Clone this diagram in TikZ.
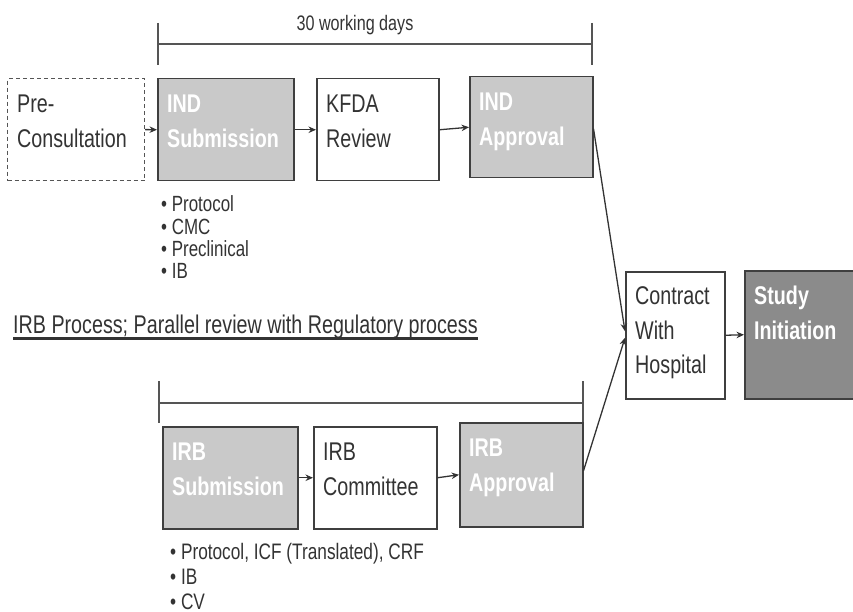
\documentclass[tikz,border=0pt]{standalone}
\usepackage{fontspec}
\setmainfont[FakeStretch=0.77]{Liberation Sans}
\usetikzlibrary{arrows.meta,calc}
\definecolor{boxgray}{HTML}{C9C9C9}
\definecolor{darkfill}{HTML}{8B8B8B}
\definecolor{edge}{HTML}{3F3F3F}
\definecolor{ink}{HTML}{333333}
\definecolor{rule}{HTML}{555555}

\begin{document}
\begin{tikzpicture}[x=1pt,y=-1pt,
  box/.style={draw=edge, line width=1.5pt, anchor=north west, inner sep=0pt, fill=white},
  shaded/.style={box, fill=boxgray},
  darkbox/.style={box, fill=darkfill},
  pending/.style={box, draw=rule, dashed, dash pattern=on 4pt off 3pt, line width=1.2pt},
  boxtext/.style={anchor=north west, inner sep=0pt, align=left, text=ink, font=\fontsize{25.6}{34.5}\selectfont},
  lighttext/.style={boxtext, text=white, font=\fontsize{25.6}{34.5}\selectfont\bfseries},
  flow/.style={draw=ink, line width=1.3pt, -{Stealth[length=7.5pt,width=6.5pt]}},
  span/.style={draw=rule, line width=1.2pt},
  notes/.style={anchor=north west, inner sep=0pt, align=left, text=ink, font=\fontsize{22}{22.3}\selectfont}
]
\useasboundingbox (0,0) rectangle (853,612);

% regulatory (IND) track
\node[pending, minimum width=137pt, minimum height=102pt] (pre) at (7,78) {};
\node[shaded, minimum width=136pt, minimum height=102pt] (indsub) at (157,78) {};
\node[box, minimum width=122pt, minimum height=102pt] (kfda) at (316,78) {};
\node[shaded, minimum width=123pt, minimum height=101pt] (indapp) at (469,76) {};

\node[boxtext] (pretxt) at ($(pre.north west)+(10,17)$) {Pre-\\Consultation};
\node[lighttext] (indsubtxt) at ($(indsub.north west)+(10,17)$) {IND\\Submission};
\node[boxtext] (kfdatxt) at ($(kfda.north west)+(10,17)$) {KFDA\\Review};
\node[lighttext] (indapptxt) at ($(indapp.north west)+(10,17)$) {IND\\Approval};

% 30-day span over the IND steps
\draw[span] (158,23) -- (158,65);
\draw[span] (592,23) -- (592,65);
\draw[span] (158,44) -- (592,44);
\node[font=\fontsize{21}{24}\selectfont, text=ink, inner sep=0pt, anchor=base] (days) at (355,30.5) {30 working days};

\node[notes] (indnotes) at (161,195.7) {• Protocol\\• CMC\\• Preclinical\\• IB};

% IRB track
\node[text=ink, inner sep=0pt, anchor=base west, font=\fontsize{25.6}{30}\selectfont] (irbtitle) at (13,333.3) {IRB Process; Parallel review with Regulatory process};
\draw[draw=ink, line width=2.5pt] ($(irbtitle.base west)+(0,5)$) -- ($(irbtitle.base east)+(0,5)$);

\draw[span] (159,381) -- (159,423);
\draw[span] (583,381) -- (583,423);
\draw[span] (159,403) -- (583,403);

\node[shaded, minimum width=135pt, minimum height=102pt] (irbsub) at (162,426) {};
\node[box, minimum width=123pt, minimum height=102pt] (irbcom) at (313,426) {};
\node[shaded, minimum width=123pt, minimum height=104pt] (irbapp) at (459,422) {};

\node[lighttext] (irbsubtxt) at ($(irbsub.north west)+(10,16.7)$) {IRB\\Submission};
\node[boxtext] (irbcomtxt) at ($(irbcom.north west)+(10,16.7)$) {IRB\\Committee};
\node[lighttext] (irbapptxt) at ($(irbapp.north west)+(10,16.7)$) {IRB\\Approval};

\node[notes, font=\fontsize{22.4}{24.8}\selectfont] (irbnotes) at (170,543) {• Protocol, ICF (Translated), CRF\\• IB\\• CV};

% joint steps
\node[box, minimum width=99pt, minimum height=127pt] (contract) at (625,271) {};
\node[darkbox, minimum width=116pt, minimum height=128pt] (study) at (744,270) {};
\node[boxtext, text width=85pt] (contracttxt) at ($(contract.north west)+(10,15.5)$) {Contract\\With\\Hospital};
\node[lighttext] (studytxt) at ($(study.north west)+(10,16)$) {Study\\Initiation};

% connectors
\draw[flow] (pre.east) -- (indsub.west);
\draw[flow] (indsub.east) -- (kfda.west);
\draw[flow] (kfda.east) -- (indapp.west);
\draw[flow] (irbsub.east) -- (irbcom.west);
\draw[flow] (irbcom.east) -- (irbapp.west);
\draw[flow] ([yshift=-1.5pt]indapp.east) -- ([yshift=4pt]contract.west);
\draw[flow] ([yshift=4pt]irbapp.east) -- ([yshift=-2.5pt]contract.west);
\draw[flow] (contract.east) -- (study.west);
\end{tikzpicture}
\end{document}
